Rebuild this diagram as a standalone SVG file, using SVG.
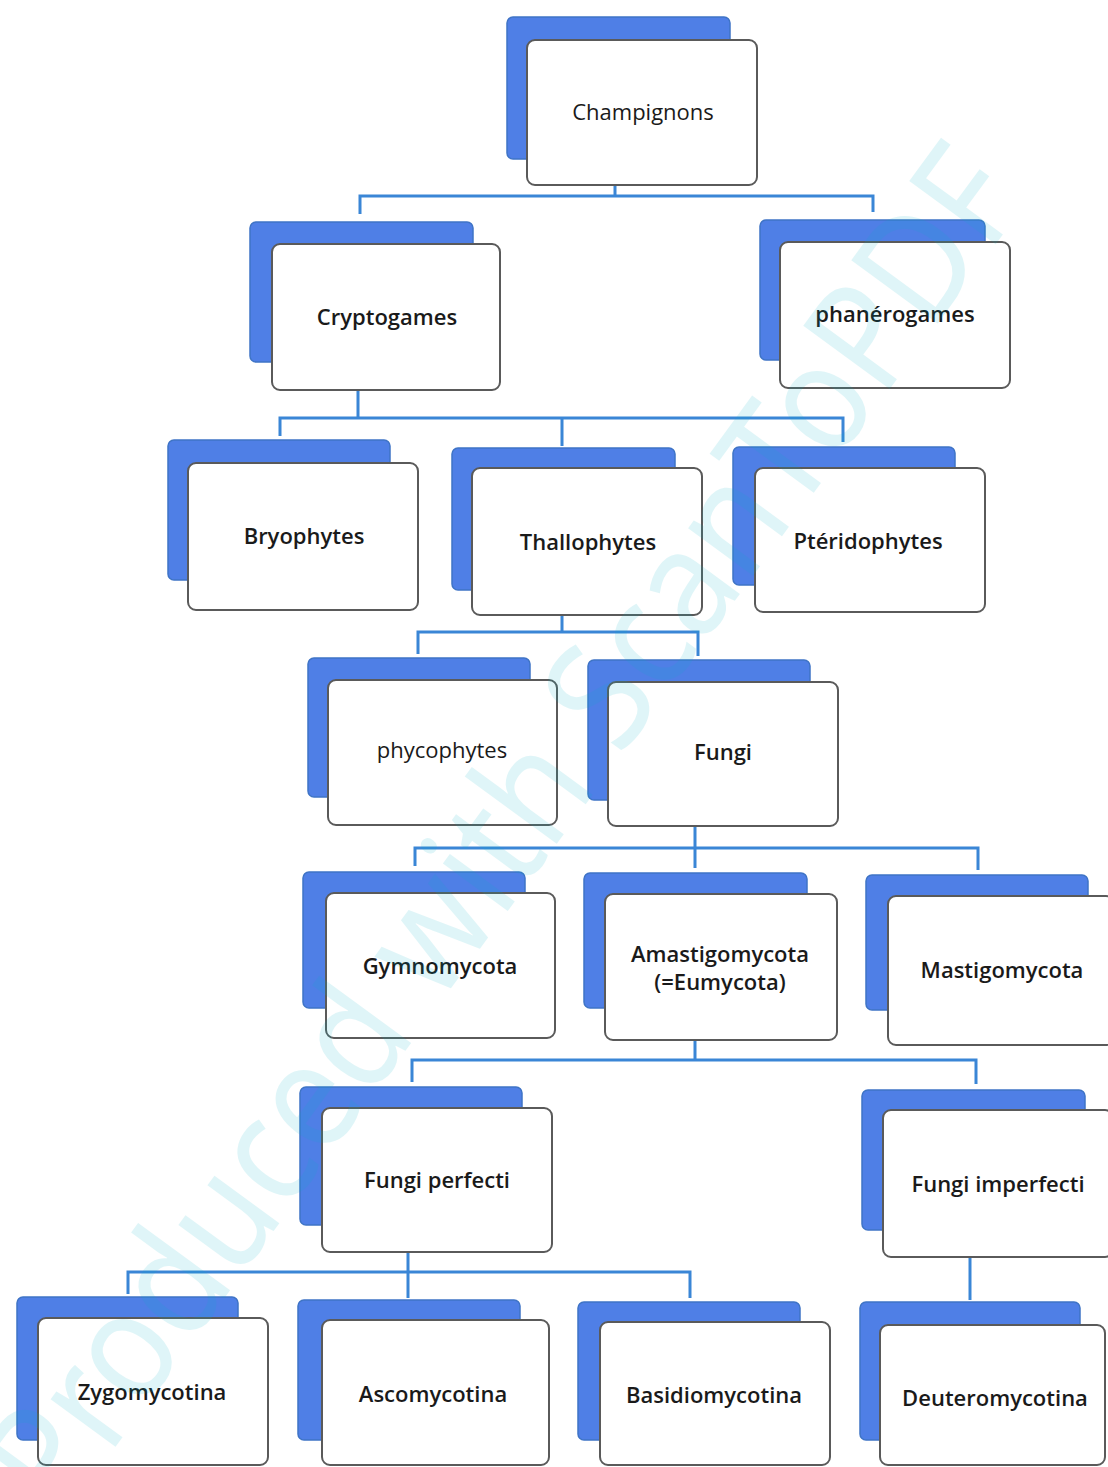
<svg xmlns="http://www.w3.org/2000/svg" width="1108" height="1467" viewBox="0 0 1108 1467">
<style>
.back{fill:#4f7fe6;stroke:#3f74c6;stroke-width:1.5}
.front{fill:#ffffff;stroke:#5a5a5a;stroke-width:2}
.lbl{font-family:"Open Sans","Noto Sans","Liberation Sans",sans-serif;font-size:22px;font-weight:600;fill:#1a1a1a;text-anchor:middle;dominant-baseline:central}
.lbl.light{font-weight:400}
.conn{fill:none;stroke:#3a86d6;stroke-width:3}
.wm{font-family:"Noto Sans","Open Sans",sans-serif;font-size:150px;fill:#00b4c8;opacity:0.12;text-anchor:middle}
</style>
<rect width="1108" height="1467" fill="#ffffff"/>
<g id="connectors">
<path class="conn" d="M615 185 V196 M360 214 V196 H873 V212"/>
<path class="conn" d="M358 390 V418 M280 436 V418 H843 V442 M562 418 V446"/>
<path class="conn" d="M562 615 V632 M418 654 V632 H698 V656"/>
<path class="conn" d="M695 826 V848 M415 866 V848 H978 V870 M695 848 V868"/>
<path class="conn" d="M695 1040 V1060 M412 1082 V1060 H976 V1084"/>
<path class="conn" d="M408 1252 V1272 M128 1294 V1272 H690 V1298 M408 1272 V1298"/>
<path class="conn" d="M970 1257 V1300"/>
</g>
<g id="n-champignons">
<rect class="back" x="507" y="17" width="223" height="142" rx="6"/>
<rect class="front" x="527" y="40" width="230" height="145" rx="8"/>
<text class="lbl light" x="643" y="111">Champignons</text>
</g>
<g id="n-cryptogames">
<rect class="back" x="250" y="222" width="223" height="140" rx="6"/>
<rect class="front" x="272" y="244" width="228" height="146" rx="8"/>
<text class="lbl" x="387" y="316">Cryptogames</text>
</g>
<g id="n-phanerogames">
<rect class="back" x="760" y="220" width="225" height="140" rx="6"/>
<rect class="front" x="780" y="242" width="230" height="146" rx="8"/>
<text class="lbl" x="895" y="313">phanérogames</text>
</g>
<g id="n-bryophytes">
<rect class="back" x="168" y="440" width="222" height="140" rx="6"/>
<rect class="front" x="188" y="463" width="230" height="147" rx="8"/>
<text class="lbl" x="304" y="535">Bryophytes</text>
</g>
<g id="n-thallophytes">
<rect class="back" x="452" y="448" width="223" height="142" rx="6"/>
<rect class="front" x="472" y="468" width="230" height="147" rx="8"/>
<text class="lbl" x="588" y="541">Thallophytes</text>
</g>
<g id="n-pteridophytes">
<rect class="back" x="733" y="447" width="222" height="138" rx="6"/>
<rect class="front" x="755" y="468" width="230" height="144" rx="8"/>
<text class="lbl" x="868" y="540">Ptéridophytes</text>
</g>
<g id="n-phycophytes">
<rect class="back" x="308" y="658" width="222" height="139" rx="6"/>
<rect class="front" x="328" y="680" width="229" height="145" rx="8"/>
<text class="lbl light" x="442" y="749">phycophytes</text>
</g>
<g id="n-fungi">
<rect class="back" x="588" y="660" width="222" height="140" rx="6"/>
<rect class="front" x="608" y="682" width="230" height="144" rx="8"/>
<text class="lbl" x="723" y="751">Fungi</text>
</g>
<g id="n-gymnomycota">
<rect class="back" x="303" y="872" width="222" height="136" rx="6"/>
<rect class="front" x="326" y="893" width="229" height="145" rx="8"/>
<text class="lbl" x="440" y="965">Gymnomycota</text>
</g>
<g id="n-amastigomycota">
<rect class="back" x="584" y="873" width="223" height="135" rx="6"/>
<rect class="front" x="605" y="894" width="232" height="146" rx="8"/>
<text class="lbl" x="720" y="953">Amastigomycota</text>
<text class="lbl" x="720" y="981">(=Eumycota)</text>
</g>
<g id="n-mastigomycota">
<rect class="back" x="866" y="875" width="222" height="135" rx="6"/>
<rect class="front" x="888" y="896" width="226" height="149" rx="8"/>
<text class="lbl" x="1002" y="969">Mastigomycota</text>
</g>
<g id="n-fungi-perfecti">
<rect class="back" x="300" y="1087" width="222" height="138" rx="6"/>
<rect class="front" x="322" y="1108" width="230" height="144" rx="8"/>
<text class="lbl" x="437" y="1179">Fungi perfecti</text>
</g>
<g id="n-fungi-imperfecti">
<rect class="back" x="862" y="1090" width="223" height="140" rx="6"/>
<rect class="front" x="883" y="1110" width="230" height="147" rx="8"/>
<text class="lbl" x="998" y="1183">Fungi imperfecti</text>
</g>
<g id="n-zygomycotina">
<rect class="back" x="17" y="1297" width="221" height="143" rx="6"/>
<rect class="front" x="38" y="1318" width="230" height="147" rx="8"/>
<text class="lbl" x="152" y="1391">Zygomycotina</text>
</g>
<g id="n-ascomycotina">
<rect class="back" x="298" y="1300" width="222" height="140" rx="6"/>
<rect class="front" x="322" y="1320" width="227" height="145" rx="8"/>
<text class="lbl" x="433" y="1393">Ascomycotina</text>
</g>
<g id="n-basidiomycotina">
<rect class="back" x="578" y="1302" width="222" height="138" rx="6"/>
<rect class="front" x="600" y="1322" width="230" height="143" rx="8"/>
<text class="lbl" x="714" y="1394">Basidiomycotina</text>
</g>
<g id="n-deuteromycotina">
<rect class="back" x="860" y="1302" width="220" height="138" rx="6"/>
<rect class="front" x="880" y="1325" width="225" height="140" rx="8"/>
<text class="lbl" x="995" y="1397">Deuteromycotina</text>
</g>
<text class="wm" x="0" y="0" transform="translate(545 860) rotate(-53.8)" textLength="1640" lengthAdjust="spacingAndGlyphs">Produced with ScanToPDF</text>
</svg>
